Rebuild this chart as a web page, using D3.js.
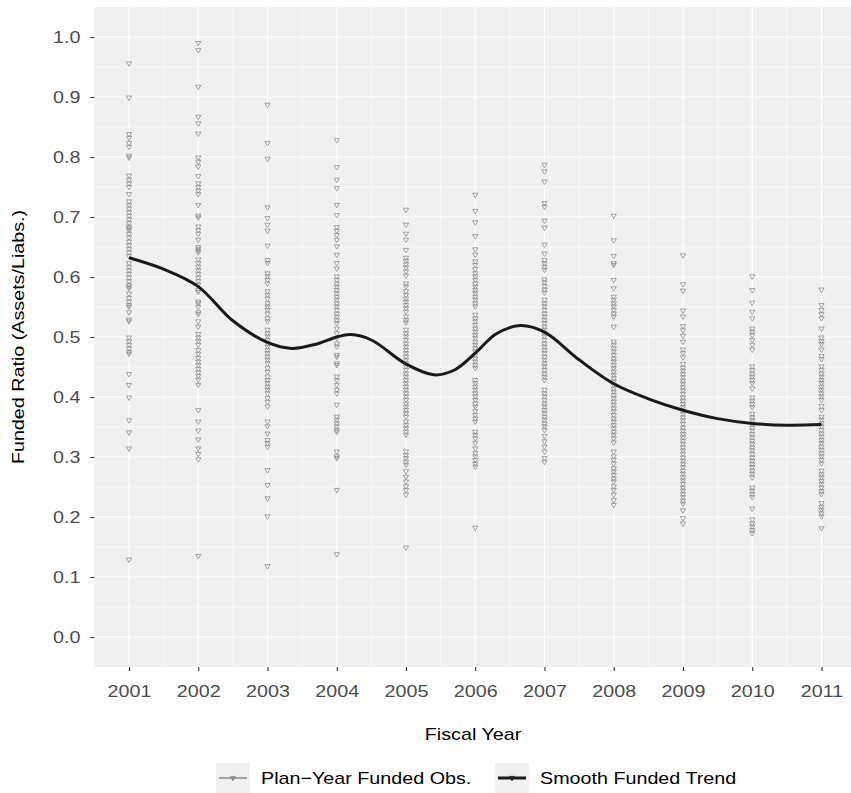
<!DOCTYPE html>
<html>
<head>
<meta charset="utf-8">
<script src="https://d3js.org/d3.v7.min.js"></script>
<style>
  body { margin: 0; background: #fff; }
  text { font-family: "Liberation Sans", Arial, sans-serif; }
  .tick text { fill: #4d4d4d; font-size: 17px; }
  .title { font-size: 17px; fill: #000; }
  .legend text { font-size: 17px; fill: #000; }
</style>
</head>
<body>
<script>
// data
const years = [2001, 2002, 2003, 2004, 2005, 2006, 2007, 2008, 2009, 2010, 2011];
const yTicks = [0, 0.1, 0.2, 0.3, 0.4, 0.5, 0.6, 0.7, 0.8, 0.9, 1.0];

const fy2001 = [0.956,0.899,0.838,0.832,0.823,0.817,0.802,0.799,0.769,0.762,0.756,0.75,0.738,0.726,0.72,0.714,0.708,0.702,0.696,0.69,0.684,0.681,0.678,0.672,0.666,0.659,0.653,0.647,0.641,0.635,0.623,0.617,0.611,0.605,0.599,0.593,0.587,0.584,0.581,0.572,0.565,0.559,0.553,0.55,0.541,0.529,0.526,0.499,0.493,0.487,0.481,0.475,0.472,0.438,0.42,0.399,0.361,0.341,0.314,0.129];
const fy2002 = [0.99,0.978,0.917,0.867,0.856,0.839,0.799,0.792,0.784,0.768,0.756,0.75,0.744,0.738,0.72,0.702,0.699,0.684,0.678,0.672,0.662,0.65,0.647,0.644,0.641,0.629,0.623,0.617,0.611,0.605,0.599,0.593,0.587,0.578,0.575,0.559,0.556,0.55,0.541,0.538,0.526,0.517,0.505,0.499,0.493,0.487,0.478,0.472,0.465,0.459,0.453,0.447,0.441,0.435,0.429,0.42,0.378,0.359,0.344,0.329,0.314,0.305,0.296,0.135];
const fy2003 = [0.887,0.823,0.797,0.716,0.698,0.687,0.677,0.652,0.628,0.623,0.606,0.601,0.595,0.589,0.576,0.57,0.564,0.556,0.551,0.545,0.539,0.531,0.526,0.512,0.506,0.501,0.495,0.489,0.484,0.478,0.473,0.467,0.462,0.456,0.448,0.442,0.434,0.428,0.423,0.417,0.412,0.406,0.398,0.392,0.384,0.359,0.351,0.339,0.328,0.323,0.317,0.278,0.253,0.231,0.201,0.118];
const fy2004 = [0.828,0.783,0.762,0.748,0.72,0.703,0.683,0.677,0.67,0.662,0.651,0.637,0.623,0.614,0.601,0.595,0.589,0.584,0.578,0.573,0.567,0.562,0.556,0.551,0.545,0.539,0.534,0.528,0.523,0.514,0.506,0.498,0.489,0.484,0.47,0.467,0.456,0.453,0.434,0.428,0.42,0.412,0.406,0.387,0.367,0.362,0.356,0.351,0.345,0.342,0.309,0.301,0.298,0.245,0.138];
const fy2005 = [0.712,0.687,0.672,0.662,0.645,0.632,0.627,0.621,0.616,0.609,0.602,0.589,0.584,0.576,0.57,0.564,0.559,0.553,0.548,0.542,0.534,0.528,0.524,0.512,0.506,0.501,0.495,0.489,0.484,0.478,0.473,0.467,0.462,0.456,0.451,0.445,0.439,0.434,0.428,0.423,0.417,0.412,0.406,0.401,0.395,0.389,0.384,0.378,0.373,0.367,0.359,0.353,0.348,0.342,0.337,0.309,0.303,0.298,0.292,0.287,0.276,0.267,0.259,0.251,0.245,0.237,0.149];
const fy2006 = [0.737,0.71,0.691,0.668,0.646,0.637,0.626,0.62,0.613,0.606,0.601,0.595,0.589,0.584,0.578,0.573,0.567,0.562,0.556,0.551,0.537,0.531,0.526,0.52,0.514,0.509,0.503,0.498,0.492,0.487,0.481,0.476,0.47,0.464,0.459,0.453,0.448,0.428,0.423,0.417,0.412,0.406,0.401,0.395,0.389,0.384,0.376,0.37,0.364,0.359,0.342,0.337,0.331,0.323,0.314,0.306,0.301,0.295,0.289,0.284,0.182];
const fy2007 = [0.787,0.776,0.759,0.723,0.717,0.694,0.682,0.654,0.639,0.628,0.623,0.617,0.612,0.596,0.591,0.585,0.579,0.574,0.562,0.556,0.551,0.545,0.539,0.534,0.528,0.523,0.517,0.512,0.506,0.501,0.495,0.489,0.484,0.478,0.473,0.467,0.462,0.456,0.451,0.445,0.439,0.434,0.428,0.412,0.406,0.401,0.395,0.389,0.384,0.378,0.373,0.367,0.362,0.356,0.351,0.345,0.335,0.326,0.317,0.309,0.298,0.292];
const fy2008 = [0.702,0.661,0.635,0.623,0.62,0.595,0.581,0.567,0.562,0.556,0.551,0.545,0.539,0.534,0.517,0.492,0.487,0.481,0.476,0.47,0.464,0.459,0.453,0.448,0.442,0.437,0.431,0.426,0.42,0.414,0.409,0.403,0.398,0.392,0.387,0.381,0.376,0.37,0.364,0.359,0.353,0.348,0.342,0.337,0.331,0.324,0.309,0.301,0.295,0.289,0.281,0.276,0.27,0.264,0.259,0.251,0.245,0.237,0.228,0.22];
const fy2009 = [0.636,0.588,0.577,0.544,0.534,0.518,0.511,0.502,0.492,0.479,0.473,0.466,0.455,0.449,0.444,0.438,0.433,0.427,0.422,0.416,0.411,0.405,0.399,0.394,0.388,0.383,0.377,0.372,0.366,0.361,0.355,0.349,0.344,0.338,0.333,0.327,0.322,0.316,0.311,0.305,0.299,0.294,0.288,0.283,0.277,0.272,0.266,0.261,0.255,0.249,0.244,0.238,0.233,0.227,0.222,0.211,0.198,0.189];
const fy2010 = [0.601,0.578,0.557,0.542,0.531,0.514,0.509,0.503,0.495,0.487,0.479,0.451,0.445,0.439,0.434,0.428,0.423,0.414,0.399,0.394,0.388,0.383,0.372,0.366,0.361,0.355,0.349,0.344,0.338,0.333,0.327,0.322,0.316,0.311,0.305,0.299,0.294,0.288,0.283,0.277,0.272,0.266,0.249,0.244,0.238,0.233,0.214,0.196,0.189,0.184,0.178,0.173];
const fy2011 = [0.579,0.553,0.545,0.538,0.531,0.514,0.499,0.493,0.488,0.479,0.468,0.463,0.451,0.445,0.439,0.434,0.428,0.423,0.417,0.412,0.406,0.401,0.395,0.385,0.378,0.367,0.362,0.356,0.351,0.345,0.339,0.334,0.328,0.323,0.317,0.312,0.306,0.301,0.295,0.289,0.277,0.271,0.266,0.26,0.255,0.249,0.243,0.238,0.223,0.217,0.212,0.206,0.201,0.181];
const observations = [fy2001, fy2002, fy2003, fy2004, fy2005, fy2006, fy2007, fy2008, fy2009, fy2010, fy2011];

// smooth trend
const trendX = [2001, 2001.5, 2002, 2002.5, 2003, 2003.35, 2003.7, 2004, 2004.2, 2004.5, 2005, 2005.4, 2005.7, 2006, 2006.3, 2006.65, 2007, 2007.5, 2008, 2008.5, 2009, 2009.5, 2010, 2010.5, 2011];
const trendY = [0.632, 0.613, 0.584, 0.527, 0.491, 0.481, 0.488, 0.5, 0.504, 0.495, 0.455, 0.437, 0.445, 0.473, 0.505, 0.519, 0.508, 0.462, 0.422, 0.397, 0.378, 0.364, 0.356, 0.353, 0.354];

const legendLabels = ["Plan\u2212Year Funded Obs.", "Smooth Funded Trend"];
</script>
<script>
const W = 851, H = 793;
const panel = { left: 94.4, right: 856.1, top: 7, bottom: 667 };
const ptColor = "#8a8a8a", lineColor = "#1a1a1a";
const k = 1.16; // text in the picture is wider than Liberation Sans

const svg = d3.select("body").append("svg")
  .attr("width", W).attr("height", H);

const x = d3.scaleLinear().domain([2000.5, 2011.5]).range([panel.left, panel.right]);
const y = d3.scaleLinear().domain([-0.05, 1.05]).range([panel.bottom, panel.top]);

// panel
svg.append("rect")
  .attr("x", panel.left).attr("y", panel.top)
  .attr("width", panel.right - panel.left).attr("height", panel.bottom - panel.top)
  .attr("fill", "#f0f0f0");

const grid = svg.append("g");
const minorX = years.slice(0, -1).map(d => d + 0.5);
const minorY = yTicks.slice(0, -1).map(d => d + 0.05);
grid.selectAll(".mx").data(minorX).enter().append("line")
  .attr("x1", d => x(d)).attr("x2", d => x(d))
  .attr("y1", panel.top).attr("y2", panel.bottom)
  .attr("stroke", "#fff").attr("stroke-width", 0.6);
grid.selectAll(".my").data(minorY).enter().append("line")
  .attr("y1", d => y(d)).attr("y2", d => y(d))
  .attr("x1", panel.left).attr("x2", panel.right)
  .attr("stroke", "#fff").attr("stroke-width", 0.6);
grid.selectAll(".gx").data(years).enter().append("line")
  .attr("x1", d => x(d)).attr("x2", d => x(d))
  .attr("y1", panel.top).attr("y2", panel.bottom)
  .attr("stroke", "#fff").attr("stroke-width", 1.2);
grid.selectAll(".gy").data(yTicks).enter().append("line")
  .attr("y1", d => y(d)).attr("y2", d => y(d))
  .attr("x1", panel.left).attr("x2", panel.right)
  .attr("stroke", "#fff").attr("stroke-width", 1.2);

// points: small open down-triangles
const tri = "M-2.6,-1.6L2.6,-1.6L0,2.9Z";
const pts = [];
observations.forEach((vals, i) => vals.forEach(v => pts.push({ year: years[i], v: v })));
svg.append("g").selectAll("path").data(pts).enter().append("path")
  .attr("d", tri)
  .attr("transform", d => `translate(${x(d.year)},${y(d.v)})`)
  .attr("fill", "none").attr("stroke", ptColor).attr("stroke-width", 0.8);

// trend line
const line = d3.line().x(d => x(d[0])).y(d => y(d[1])).curve(d3.curveCatmullRom);
svg.append("path")
  .datum(trendX.map((d, i) => [d, trendY[i]]))
  .attr("d", line)
  .attr("fill", "none").attr("stroke", lineColor).attr("stroke-width", 3);

// axes
const yAxis = svg.append("g").attr("transform", `translate(${panel.left},0)`)
  .call(d3.axisLeft(y).tickValues(yTicks).tickFormat(d3.format(".1f")).tickSize(4));
yAxis.selectAll(".tick text").attr("x", 0).attr("transform", `translate(-14,0) scale(${k},1)`);
const xAxis = svg.append("g").attr("transform", `translate(0,${panel.bottom})`)
  .call(d3.axisBottom(x).tickValues(years).tickFormat(d3.format("d")).tickSize(4).tickPadding(14));
xAxis.selectAll(".tick text").attr("transform", `scale(${k},1)`);
[yAxis, xAxis].forEach(a => a.select(".domain").remove());
svg.selectAll(".tick line").attr("stroke", "#333").attr("stroke-width", 1.1);

svg.append("text").attr("class", "title")
  .attr("transform", `translate(473,740) scale(${k},1)`).attr("text-anchor", "middle")
  .text("Fiscal Year");
svg.append("text").attr("class", "title")
  .attr("transform", `translate(24,${(panel.top + panel.bottom) / 2}) rotate(-90) scale(${k},1)`)
  .attr("text-anchor", "middle")
  .text("Funded Ratio (Assets/Liabs.)");

// legend
const legend = svg.append("g").attr("class", "legend");
const keyX = [216, 495];
const keyStyles = [{ c: ptColor, w: 1.5 }, { c: lineColor, w: 3 }];
legendLabels.forEach((lab, i) => {
  const g = legend.append("g").attr("transform", `translate(${keyX[i]},763)`);
  g.append("rect").attr("width", 34).attr("height", 30).attr("fill", "#f0f0f0");
  g.append("line").attr("x1", 3).attr("x2", 31).attr("y1", 15).attr("y2", 15)
    .attr("stroke", keyStyles[i].c).attr("stroke-width", keyStyles[i].w);
  g.append("path").attr("d", tri).attr("transform", "translate(17,15)")
    .attr("fill", keyStyles[i].c).attr("stroke", keyStyles[i].c).attr("stroke-width", 0.7);
  g.append("text").attr("transform", `translate(45,21) scale(${k},1)`).text(lab);
});
</script>
</body>
</html>
